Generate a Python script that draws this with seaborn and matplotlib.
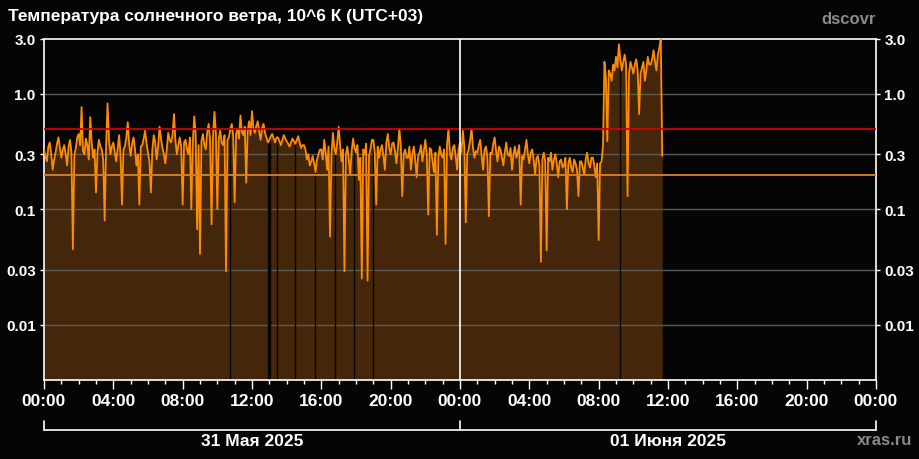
import numpy as np
import pandas as pd
import matplotlib
matplotlib.use('Agg')
import matplotlib.pyplot as plt
import seaborn as sns

# texts
title = 'Температура солнечного ветра, 10^6 К (UTC+03)'
source_top = 'dscovr'
source_bottom = 'xras.ru'
day_labels = ['31 Мая 2025', '01 Июня 2025']
day_edges = [0, 24, 48]
hour_ticks = list(range(0, 49, 4))
hour_labels = ['00:00', '04:00', '08:00', '12:00', '16:00', '20:00',
               '00:00', '04:00', '08:00', '12:00', '16:00', '20:00', '00:00']
y_ticks = [0.01, 0.03, 0.1, 0.3, 1.0, 3.0]
y_labels = ['0.01', '0.03', '0.1', '0.3', '1.0', '3.0']
red_level = 0.5
orange_level = 0.2

# gaps in the data (hours from 31 May 00:00)
gap_hours = [10.72, 13.42, 14.5, 15.63, 16.76, 17.86, 18.97, 33.23]
wide_gap_hours = [13.0]

# solar wind temperature, 10^6 K, one value per 5 minutes from 31 May 00:00
step_min = 5
temp = [
    0.33, 0.29, 0.26, 0.35, 0.38, 0.30, 0.22, 0.27, 0.31, 0.37, 0.42, 0.34,   # 00h
    0.28, 0.33, 0.36, 0.30, 0.24, 0.35, 0.40, 0.31, 0.045, 0.29, 0.34, 0.42,  # 01h
    0.45, 0.36, 0.77, 0.32, 0.30, 0.41, 0.36, 0.27, 0.63, 0.38, 0.28, 0.33,   # 02h
    0.14, 0.31, 0.40, 0.35, 0.33, 0.27, 0.08, 0.36, 0.83, 0.40, 0.30, 0.35,   # 03h
    0.38, 0.31, 0.26, 0.34, 0.44, 0.29, 0.11, 0.33, 0.35, 0.42, 0.57, 0.36,   # 04h
    0.29, 0.37, 0.42, 0.33, 0.24, 0.30, 0.11, 0.35, 0.36, 0.41, 0.48, 0.37,   # 05h
    0.31, 0.26, 0.14, 0.33, 0.44, 0.38, 0.27, 0.35, 0.52, 0.41, 0.34, 0.30,   # 06h
    0.25, 0.33, 0.46, 0.40, 0.38, 0.44, 0.67, 0.39, 0.30, 0.36, 0.42, 0.35,   # 07h
    0.11, 0.38, 0.40, 0.33, 0.30, 0.42, 0.10, 0.37, 0.64, 0.45, 0.067, 0.36,  # 08h
    0.041, 0.39, 0.45, 0.36, 0.33, 0.47, 0.55, 0.40, 0.074, 0.43, 0.70, 0.46, # 09h
    0.10, 0.41, 0.48, 0.38, 0.36, 0.44, 0.029, 0.40, 0.42, 0.50, 0.55, 0.43,  # 10h
    0.115, 0.45, 0.50, 0.41, 0.65, 0.47, 0.44, 0.52, 0.17, 0.48, 0.58, 0.44,  # 11h
    0.71, 0.50, 0.46, 0.53, 0.58, 0.47, 0.40, 0.51, 0.55, 0.46, 0.42, 0.38,   # 12h
    0.40, 0.43, 0.45, 0.41, 0.38, 0.42, 0.42, 0.39, 0.36, 0.40, 0.44, 0.41,   # 13h
    0.39, 0.37, 0.35, 0.38, 0.41, 0.39, 0.37, 0.40, 0.43, 0.38, 0.34, 0.36,   # 14h
    0.36, 0.33, 0.27, 0.30, 0.24, 0.26, 0.29, 0.25, 0.21, 0.27, 0.30, 0.33,   # 15h
    0.33, 0.27, 0.40, 0.31, 0.22, 0.35, 0.058, 0.29, 0.46, 0.34, 0.30, 0.38,  # 16h
    0.52, 0.36, 0.26, 0.33, 0.029, 0.30, 0.35, 0.27, 0.20, 0.32, 0.41, 0.34,  # 17h
    0.31, 0.36, 0.18, 0.28, 0.025, 0.33, 0.30, 0.37, 0.024, 0.29, 0.33, 0.40, # 18h
    0.40, 0.31, 0.11, 0.35, 0.28, 0.33, 0.36, 0.29, 0.22, 0.38, 0.45, 0.34,   # 19h
    0.30, 0.37, 0.38, 0.32, 0.25, 0.34, 0.50, 0.36, 0.13, 0.30, 0.33, 0.28,   # 20h
    0.28, 0.35, 0.22, 0.30, 0.35, 0.27, 0.19, 0.29, 0.31, 0.36, 0.26, 0.32,   # 21h
    0.40, 0.30, 0.09, 0.34, 0.33, 0.26, 0.21, 0.31, 0.06, 0.28, 0.35, 0.30,   # 22h
    0.28, 0.33, 0.05, 0.36, 0.50, 0.31, 0.27, 0.34, 0.36, 0.29, 0.22, 0.33,   # 23h
    0.38, 0.31, 0.48, 0.35, 0.077, 0.30, 0.33, 0.40, 0.50, 0.34, 0.28, 0.32,  # 00h
    0.31, 0.36, 0.40, 0.29, 0.22, 0.33, 0.35, 0.28, 0.087, 0.31, 0.30, 0.37,  # 01h
    0.42, 0.32, 0.26, 0.35, 0.33, 0.28, 0.24, 0.31, 0.38, 0.30, 0.29, 0.34,   # 02h
    0.22, 0.30, 0.35, 0.28, 0.31, 0.36, 0.11, 0.29, 0.27, 0.33, 0.40, 0.30,   # 03h
    0.25, 0.31, 0.33, 0.27, 0.20, 0.28, 0.29, 0.24, 0.035, 0.27, 0.31, 0.26,  # 04h
    0.044, 0.28, 0.26, 0.31, 0.22, 0.27, 0.30, 0.25, 0.19, 0.26, 0.27, 0.23,  # 05h
    0.24, 0.28, 0.10, 0.25, 0.28, 0.23, 0.21, 0.27, 0.25, 0.22, 0.13, 0.26,   # 06h
    0.26, 0.23, 0.20, 0.27, 0.31, 0.25, 0.23, 0.28, 0.28, 0.24, 0.19, 0.25,   # 07h
    0.054, 0.25, 0.26, 0.36, 1.9, 1.4, 0.39, 1.6, 1.5, 1.3, 1.8, 1.6,         # 08h
    2.1, 1.7, 2.7, 2.0, 1.6, 1.9, 2.2, 1.8, 0.13, 1.5, 1.9, 1.7,              # 09h
    1.5, 1.8, 2.0, 1.6, 0.67, 1.5, 1.7, 1.9, 1.3, 1.6, 2.1, 1.8,              # 10h
    1.8, 2.0, 2.4, 1.9, 1.6, 2.2, 2.5, 3.0, 0.29,                             # 11h
]

df = pd.DataFrame({'hours': np.arange(len(temp)) * step_min / 60, 'temp': temp})

bg = '#050505'
line_col = '#ff8c00'
fill_col = '#44260a'
grid_col = '#5a5a5a'

sns.set_style('dark', rc={'axes.facecolor': bg, 'figure.facecolor': bg,
                          'axes.edgecolor': 'white', 'text.color': 'white',
                          'xtick.color': 'white', 'ytick.color': 'white'})
plt.rcParams['font.family'] = ['Liberation Sans', 'DejaVu Sans']
plt.rcParams['font.weight'] = 'bold'

fig = plt.figure(figsize=(9.2, 4.6), dpi=100)
ax = fig.add_axes([44 / 920, 1 - 381 / 460, 832 / 920, 341 / 460])
ax.set_yscale('log')
ylo, yhi = 0.0033, 3.0
ax.set_ylim(ylo, yhi)
ax.set_xlim(day_edges[0], day_edges[-1])

ax.fill_between(df.hours, ylo, df.temp, color=fill_col, lw=0, zorder=1)
for yt in y_ticks[:-1]:
    ax.axhline(yt, color=grid_col, lw=1, zorder=1.5)
# data gaps cut through the fill
gap_top = np.interp(gap_hours, df.hours, df.temp)
ax.vlines(gap_hours, ylo, gap_top, color=bg, lw=1, zorder=1.6)
ax.vlines(wide_gap_hours, ylo, np.interp(wide_gap_hours, df.hours, df.temp),
          color=bg, lw=2.4, zorder=1.6)

sns.lineplot(data=df, x='hours', y='temp', ax=ax, color=line_col, lw=1.3,
             estimator=None, zorder=3)

ax.axhline(red_level, color='#d40000', lw=1.3, zorder=4)
ax.axhline(orange_level, color='#d9822b', lw=1.3, zorder=4)
ax.axvline(day_edges[1], color='white', lw=1.2, zorder=4)

for s in ax.spines.values():
    s.set_color('white')
    s.set_linewidth(1.2)

ax.set_xticks(hour_ticks)
ax.set_xticklabels(hour_labels)
ax.set_xticks(range(day_edges[0], day_edges[-1] + 1), minor=True)
ax.set_yticks(y_ticks)
ax.set_yticklabels(y_labels)
ax.yaxis.set_minor_locator(matplotlib.ticker.NullLocator())
ax.tick_params(axis='x', which='major', bottom=True, length=6.5, width=1,
               labelsize=12.5, pad=3)
ax.tick_params(axis='x', which='minor', bottom=True, length=3, width=1)
ax.tick_params(axis='y', left=True, right=True, labelright=True, length=3,
               width=1, labelsize=11, pad=3)
for lab in ax.get_xticklabels() + ax.get_yticklabels():
    lab.set_fontweight('bold')
ax.set_xlabel('')
ax.set_ylabel('')

# day bracket under the time axis
tr = ax.get_xaxis_transform()
yb, yb_top, y_day = -50 / 341, -41 / 341, -61 / 341
ax.plot([day_edges[0], day_edges[-1]], [yb, yb], color='white', lw=1.2,
        transform=tr, clip_on=False)
for d in day_edges:
    ax.plot([d, d], [yb, yb_top], color='white', lw=1.2, transform=tr,
            clip_on=False)
for i, lab in enumerate(day_labels):
    mid = (day_edges[i] + day_edges[i + 1]) / 2
    ax.text(mid, y_day, lab, transform=tr, ha='center', va='center',
            fontsize=12.5, fontweight='bold', color='white')

fig.text(8 / 920, 1 - 17 / 460, title, ha='left', va='center',
         fontsize=12.5, fontweight='bold', color='white')
fig.text(876 / 920, 1 - 20 / 460, source_top, ha='right', va='center',
         fontsize=12, fontweight='bold', color='#8a8a8a')
fig.text(912 / 920, 1 - 441 / 460, source_bottom, ha='right', va='center',
         fontsize=12, fontweight='bold', color='#8a8a8a')

fig.savefig('out.png', dpi=100, facecolor=bg)
